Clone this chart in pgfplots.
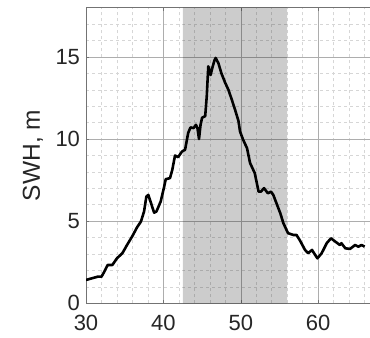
\documentclass[border=0pt]{standalone}
\usepackage{pgfplots}
\pgfplotsset{compat=1.18}
\usepackage{fontspec}
\setmainfont{Liberation Sans}
\definecolor{majgrid}{gray}{0.68}
\definecolor{mingrid}{gray}{0.84}
\definecolor{axcol}{gray}{0.45}
\definecolor{txt}{gray}{0.15}
\begin{document}
\begin{tikzpicture}
\useasboundingbox (-86bp,-34.7bp) rectangle (284bp,303.3bp);
\begin{axis}[
  scale only axis,
  width=309.6bp, height=295.6bp,
  xmin=30, xmax=70, ymin=0, ymax=18,
  xtick={30,40,50,60}, ytick={0,5,10,15},
  minor xtick={32,34,36,38,42,44,46,48,52,54,56,58,62,64,66,68},
  minor ytick={1,2,3,4,6,7,8,9,11,12,13,14,16,17},
  grid=both,
  major grid style={color=majgrid, line width=0.6bp},
  minor grid style={color=mingrid, dash pattern=on 3bp off 3bp, line width=0.6bp},
  axis line style={color=axcol, line width=0.7bp},
  tick style={color=axcol, line width=0.6bp},
  major tick length=3bp, minor tick length=0bp,
  tick align=inside,
  /pgf/number format/assume math mode=true,
  ticklabel style={font=\fontsize{22bp}{24bp}\selectfont, color=txt},
  xticklabel style={yshift=-8.5bp},
  yticklabel style={xshift=-2.5bp},
  ylabel={SWH, m},
  every axis y label/.style={at={(axis description cs:-0.1486,0.5)}, rotate=90, anchor=base, font=\fontsize{24.5bp}{26bp}\selectfont, color=txt},
]
\addplot[fill=black, fill opacity=0.2, draw=none] coordinates {(42.5,0) (42.5,18) (56.0,18) (56.0,0)} \closedcycle;
\addplot[black, line width=2.6bp, line join=round] coordinates {
(30.0,1.42) (30.6,1.50) (31.5,1.62) (32.0,1.62) (32.3,1.87) (32.8,2.33) (33.4,2.33)
(34.0,2.74) (34.7,3.05) (35.3,3.55) (36.0,4.10) (36.6,4.63) (37.1,4.98) (37.5,5.59)
(37.8,6.50) (38.05,6.60) (38.4,6.10) (38.8,5.52) (39.1,5.59) (39.65,6.20) (40.1,7.10)
(40.3,7.56) (40.85,7.62) (41.15,8.13) (41.5,9.0) (41.9,8.9) (42.4,9.24) (42.8,9.35)
(43.2,10.37) (43.5,10.71) (43.9,10.67) (44.2,10.87) (44.4,10.67) (44.6,10.0) (44.8,10.87)
(45.0,11.3) (45.4,11.4) (45.6,12.6) (45.8,14.43) (46.1,13.9) (46.3,14.3) (46.6,14.8)
(46.75,14.94) (47.1,14.63) (47.5,14.0) (47.96,13.45) (48.4,13.0) (48.8,12.45) (49.25,11.8)
(49.7,11.1) (49.9,10.46) (50.3,9.96) (50.8,9.45) (51.2,8.54) (51.8,7.93) (52.3,6.8)
(52.6,6.8) (53.0,7.01) (53.5,6.7) (53.9,6.8) (54.2,6.6) (54.6,6.1) (55.1,5.49)
(55.5,4.88) (56.1,4.27) (56.8,4.16) (57.2,4.16) (57.6,3.86) (58.3,3.25) (58.7,3.05)
(59.2,3.25) (59.6,2.95) (59.9,2.74) (60.45,3.05) (61.1,3.66) (61.65,3.96) (62.2,3.76)
(62.8,3.55) (63.0,3.66) (63.5,3.35) (64.1,3.31) (64.5,3.45) (64.75,3.55) (65.2,3.45)
(65.6,3.55) (66.0,3.45)
};
\end{axis}
\end{tikzpicture}
\end{document}
